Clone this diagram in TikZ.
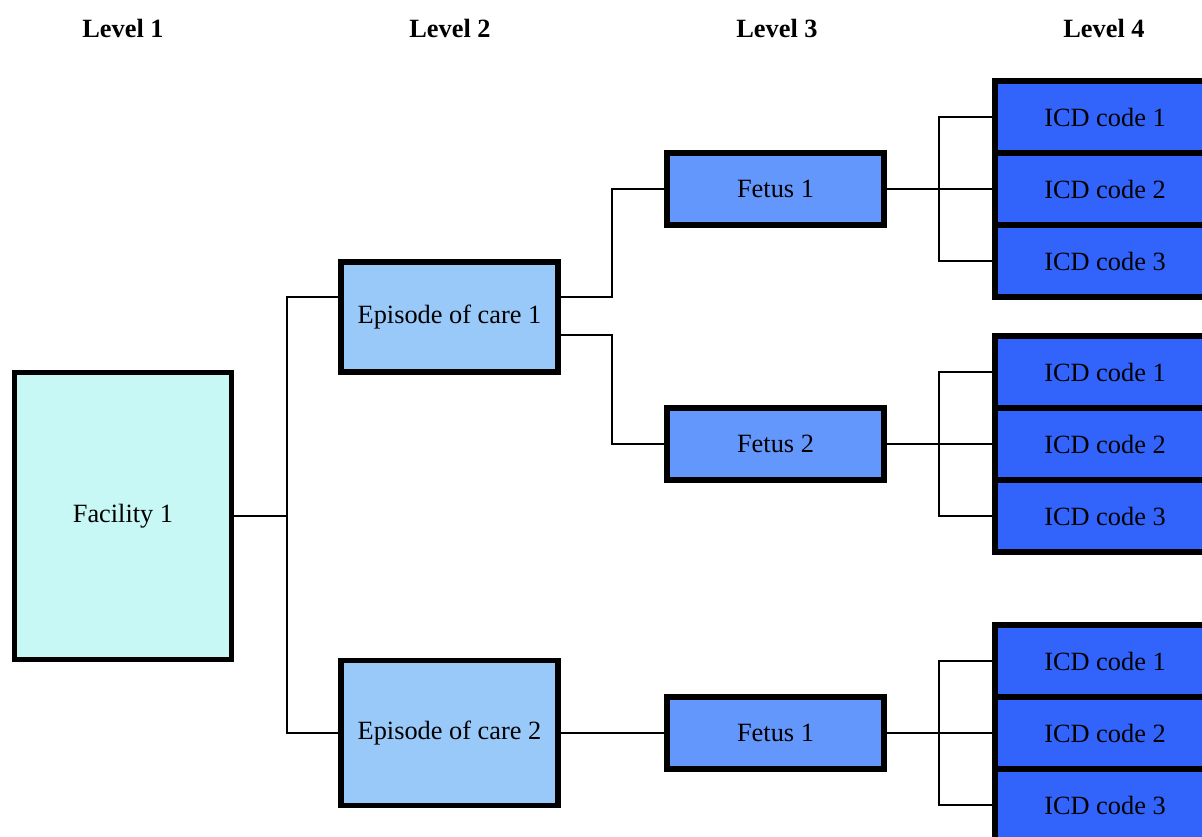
\documentclass[tikz,border=0pt]{standalone}
\usepackage{fontspec}
\setmainfont{Liberation Serif}
\usepackage{xcolor}
\usepackage{tikz}
\usetikzlibrary{positioning,calc}
\definecolor{faccol}{HTML}{C8F8F6}
\definecolor{epicol}{HTML}{99C9F9}
\definecolor{fetcol}{HTML}{6497FC}
\definecolor{icdcol}{HTML}{3264FC}

\begin{document}
\begin{tikzpicture}[
  x=0.02cm,y=-0.02cm,
  font=\fontsize{15}{18}\selectfont,
  box/.style={draw=black,line width=3.3pt,inner sep=0pt,outer sep=0pt,
              minimum width=4.34cm},
  facbox/.style={box,fill=faccol,minimum height=5.74cm},
  epibox/.style={box,fill=epicol},
  fetbox/.style={box,fill=fetcol,minimum height=1.44cm},
  icdbox/.style={box,fill=icdcol,minimum width=4.4cm,minimum height=1.44cm},
  level/.style={font=\fontsize{15}{18}\selectfont\bfseries},
  link/.style={line width=1.6pt},
]
\clip (0,0) rectangle (1202,837);

\node[level] (lv1) at (123,28) {Level 1};
\node[level] (lv2) at (450,28) {Level 2};
\node[level] (lv3) at (777,28) {Level 3};
\node[level] (lv4) at (1104,28) {Level 4};

\node[facbox] (fac) at (123,516) {Facility 1};
\node[epibox,minimum height=2.2cm] (ep1) at (449.5,317) {Episode of care 1};
\node[epibox,minimum height=2.9cm] (ep2) at (449.5,733) {Episode of care 2};

\node[fetbox] (fet1) at (775.5,189) {Fetus 1};
\node[fetbox] (fet2) at (775.5,444) {Fetus 2};
\node[fetbox] (fet3) at (775.5,733) {Fetus 1};

% three ICD codes per fetus
\foreach \g/\y in {a/117,b/372,c/661}{
  \foreach \i in {1,2,3}{
    \node[icdbox] (icd-\g-\i) at (1105,{\y+72*(\i-1)}) {ICD code \i};
  }
}

\draw[link] (fac.east) -- ++(55,0);
\draw[link] ([yshift=0.4cm]ep1.west) -- ++(-54,0) |- (ep2.west);

\draw[link] ([yshift=0.4cm]ep1.east) -- ++(54,0) |- (fet1.west);
\draw[link] ([yshift=-0.36cm]ep1.east) -- ++(54,0) |- (fet2.west);
\draw[link] (ep2.east) -- (fet3.west);

\foreach \f/\g in {fet1/a,fet2/b,fet3/c}{
  \draw[link] (\f.east) -- (icd-\g-2.west);
  \draw[link] (icd-\g-1.west) -- ++(-56,0) |- (icd-\g-3.west);
}
\end{tikzpicture}
\end{document}
